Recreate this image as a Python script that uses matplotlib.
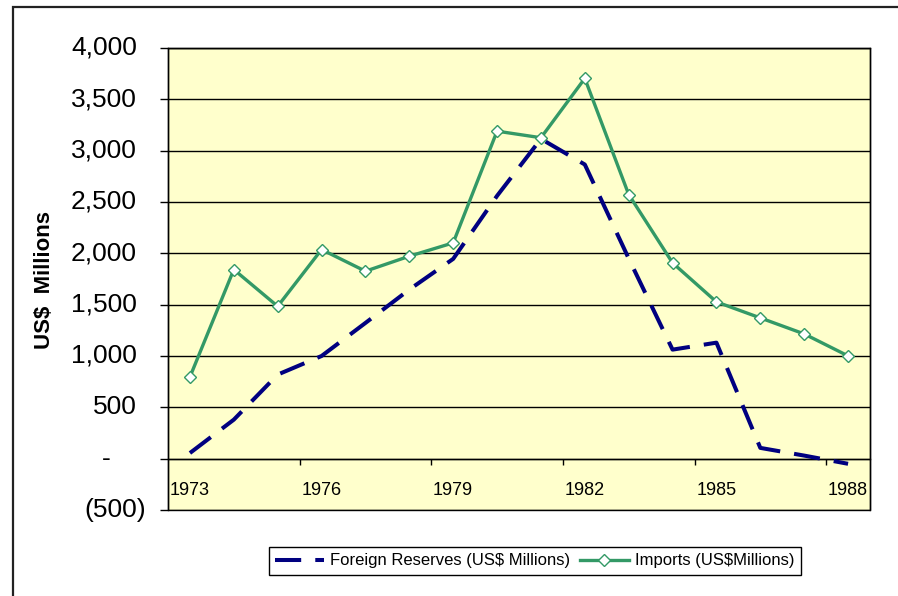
import matplotlib
matplotlib.use('Agg')
from matplotlib import pyplot as plt
from matplotlib.patches import Rectangle
from matplotlib.ticker import FixedLocator, FuncFormatter, NullFormatter

# data (US$ millions)
years = list(range(1973, 1989))
reserves = [55, 380, 819, 1000, 1322, 1647, 1946, 2560, 3115, 2865,
            1950, 1062, 1130, 105, 30, -50]
imports = [796, 1842, 1484, 2037, 1826, 1972, 2102, 3190, 3126, 3704,
           2573, 1907, 1527, 1371, 1215, 1001]
label_years = [1973, 1976, 1979, 1982, 1985, 1988]
y_ticks = list(range(-500, 4001, 500))

NAVY = '#000080'
GREEN = '#339966'
PLOT_BG = '#FFFFCC'

W, H = 898, 596


def money_fmt(v: float) -> str:
    """Excel accounting style: negatives in brackets, zero as a dash."""
    v = int(round(v))
    if v < 0:
        return f'({abs(v):,})'
    if v == 0:
        return '-'
    return f'{v:,}'


def main():
    plt.rcParams['font.family'] = ['Liberation Sans', 'DejaVu Sans']
    fig = plt.figure(figsize=(W / 100, H / 100), dpi=100)
    ax = fig.add_axes([168 / W, 1 - 510 / H, 702 / W, 462 / H])
    ax.set_facecolor(PLOT_BG)

    ax.plot(years, reserves, color=NAVY, lw=2.9, dashes=(6.5, 3.5),
            dash_capstyle='butt', label='Foreign Reserves (US$ Millions)', zorder=3)
    ax.plot(years, imports, color=GREEN, lw=2.4, marker='D', ms=6.5,
            mfc='white', mec=GREEN, mew=1.0, label='Imports (US$Millions)', zorder=4)

    ax.set_xlim(1972.5, 1988.5)
    ax.set_ylim(-500, 4000)

    # x axis crosses at zero, ticks between categories every 3 years
    ax.spines['bottom'].set_position(('data', 0))
    for s in ax.spines.values():
        s.set_color('black')
        s.set_linewidth(1.0)
    ax.xaxis.set_major_locator(FixedLocator([1975.5, 1978.5, 1981.5, 1984.5, 1987.5]))
    ax.xaxis.set_major_formatter(NullFormatter())
    ax.xaxis.set_minor_locator(FixedLocator(label_years))
    ax.xaxis.set_minor_formatter(FuncFormatter(lambda v, p: str(int(round(v)))))
    ax.tick_params(axis='x', which='major', direction='out', length=4.3, width=1.0)
    ax.tick_params(axis='x', which='minor', length=0, pad=16.5, labelsize=13)

    ax.set_yticks(y_ticks)
    ax.set_yticklabels([''] * len(y_ticks))
    ax.tick_params(axis='y', direction='out', length=5.8, width=1.0)
    ax.grid(axis='y', color='black', lw=1.0)

    # plot area frame (bottom edge sits at -500, below the zero axis)
    ax.add_patch(Rectangle((0, 0), 1, 1, transform=ax.transAxes, fill=False,
                           ec='black', lw=1.0, clip_on=False, zorder=5))

    ytrans = ax.get_yaxis_transform()
    for v in y_ticks:
        if v < 0:
            ax.text(-0.031, v, money_fmt(v), transform=ytrans, ha='right',
                    va='center', fontsize=19)
        elif v == 0:
            ax.text(-0.088, v, money_fmt(v), transform=ytrans, ha='center',
                    va='center', fontsize=19)
        else:
            ax.text(-0.044, v, money_fmt(v), transform=ytrans, ha='right',
                    va='center', fontsize=19)

    fig.text(45 / W, 1 - 280 / H, 'US$  Millions', rotation=90, fontsize=16,
             fontweight='bold', ha='center', va='center')

    leg = ax.legend(loc='center', bbox_to_anchor=(535 / W, 1 - 561 / H),
                    bbox_transform=fig.transFigure, ncol=2, fontsize=12,
                    handlelength=2.9, handletextpad=0.4, columnspacing=0.6,
                    borderpad=0.4, fancybox=False, framealpha=1, edgecolor='black')
    leg.get_frame().set_linewidth(1.0)

    # outer chart border (only top and left show in the crop)
    fig.add_artist(Rectangle((12.5 / W, -0.1), 1.0, 1.1 - 6.5 / H, transform=fig.transFigure,
                             fill=False, lw=1.6, ec='#222222'))

    fig.savefig('out.png', dpi=100, facecolor='white')


if __name__ == "__main__":
    main()
